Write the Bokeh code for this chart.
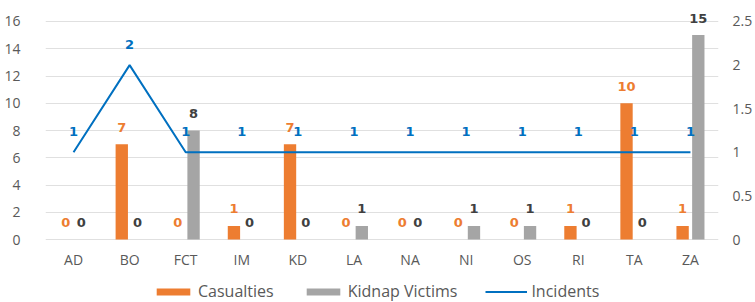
from bokeh.plotting import figure
from bokeh.models import (ColumnDataSource, Range1d, LinearAxis, FixedTicker, Legend,
                          LegendItem, FactorRange, NumeralTickFormatter)
from bokeh.transform import dodge
from bokeh.core.properties import value
from bokeh.embed import file_html
from bokeh.resources import INLINE

categories = ["AD", "BO", "FCT", "IM", "KD", "LA", "NA", "NI", "OS", "RI", "TA", "ZA"]
casualties = [0, 7, 0, 1, 7, 0, 0, 0, 0, 1, 10, 1]
kidnap_victims = [0, 0, 8, 0, 0, 1, 0, 1, 1, 0, 0, 15]
incidents = [1, 2, 1, 1, 1, 1, 1, 1, 1, 1, 1, 1]
left_ticks = [0, 2, 4, 6, 8, 10, 12, 14, 16]
right_ticks = [0, 0.5, 1, 1.5, 2, 2.5]

ORANGE = "#ED7D31"
GRAY = "#A5A5A5"
BLUE = "#0070C0"
TXT = "#595959"

src = ColumnDataSource(dict(
    cat=categories, cas=casualties, kid=kidnap_victims, inc=incidents,
    cas_t=[str(v) for v in casualties],
    kid_t=[str(v) for v in kidnap_victims],
    inc_t=[str(v) for v in incidents],
))

LEFT_START = -4.62
LEFT_END = 17.54
RATIO = 6.4  # left units per right unit
p = figure(width=755, height=302,
           x_range=FactorRange(factors=categories, range_padding=0),
           y_range=Range1d(LEFT_START, LEFT_END),
           output_backend="svg", toolbar_location=None,
           min_border_left=45, min_border_right=35, min_border_top=0, min_border_bottom=0)
p.extra_y_ranges = {"right": Range1d(LEFT_START / RATIO, LEFT_END / RATIO)}
p.outline_line_color = None
p.background_fill_color = "white"
p.xaxis.visible = False

p.xgrid.grid_line_color = None
p.ygrid.ticker = FixedTicker(ticks=left_ticks)
p.ygrid.grid_line_color = "#E0E0E0"

r_cas = p.vbar(x=dodge("cat", -0.14, range=p.x_range), top="cas", bottom=0, width=0.22,
               source=src, fill_color=ORANGE, line_color=None)
r_kid = p.vbar(x=dodge("cat", 0.14, range=p.x_range), top="kid", bottom=0, width=0.22,
               source=src, fill_color=GRAY, line_color=None)
r_inc = p.line(x="cat", y="inc", source=src, y_range_name="right", line_color=BLUE, line_width=2)

lab_font = value("DejaVu Sans")
p.text(x=dodge("cat", -0.14, range=p.x_range), y="cas", text="cas_t", source=src,
       text_align="center", text_baseline="middle", y_offset=-17,
       text_font=lab_font, text_font_style="bold", text_font_size="13px", text_color=ORANGE)
p.text(x=dodge("cat", 0.14, range=p.x_range), y="kid", text="kid_t", source=src,
       text_align="center", text_baseline="middle", y_offset=-17,
       text_font=lab_font, text_font_style="bold", text_font_size="13px", text_color="#404040")
p.text(x="cat", y="inc", text="inc_t", source=src, y_range_name="right",
       text_align="center", text_baseline="middle", y_offset=-21,
       text_font=lab_font, text_font_style="bold", text_font_size="13px", text_color=BLUE)

# category labels below the baseline
p.text(x="cat", y=0, text="cat", source=src,
       text_align="center", text_baseline="middle", y_offset=20,
       text_font=value("Open Sans"), text_font_size="14px", text_color=TXT)

# left axis
p.yaxis.ticker = FixedTicker(ticks=left_ticks)
ya = p.yaxis[0]
ya.axis_line_color = None
ya.major_tick_line_color = None
ya.minor_tick_line_color = None
ya.major_label_standoff = 19
ya.major_label_text_font = "Open Sans"
ya.major_label_text_font_size = "14px"
ya.major_label_text_color = TXT

# right axis
rax = LinearAxis(y_range_name="right", ticker=FixedTicker(ticks=right_ticks),
                 formatter=NumeralTickFormatter(format="0.[0]"))
rax.axis_line_color = None
rax.major_tick_line_color = None
rax.minor_tick_line_color = None
rax.major_label_standoff = 8
rax.major_label_text_font = "Open Sans"
rax.major_label_text_font_size = "14px"
rax.major_label_text_color = TXT
p.add_layout(rax, "right")

legend = Legend(items=[LegendItem(label="Casualties", renderers=[r_cas]),
                       LegendItem(label="Kidnap Victims", renderers=[r_kid]),
                       LegendItem(label="Incidents", renderers=[r_inc])],
                orientation="horizontal", location=(107, 0))
legend.border_line_color = None
legend.background_fill_alpha = 0
legend.padding = 0
legend.margin = 0
legend.spacing = 28
legend.label_standoff = 4
legend.glyph_width = 42
legend.glyph_height = 9
legend.label_height = 9
legend.label_text_font = "Open Sans"
legend.label_text_font_size = "16px"
legend.label_text_color = TXT
p.add_layout(legend)

open("out.html", "w").write(file_html(p, INLINE))
